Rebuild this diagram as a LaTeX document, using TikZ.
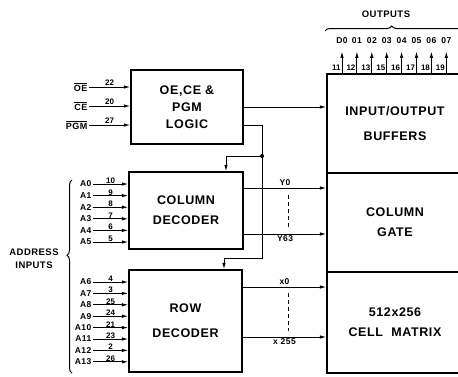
\documentclass[tikz,border=0pt]{standalone}
\usepackage{fontspec}
\setmainfont{Liberation Sans}
\newfontfamily\spaced[LetterSpace=5]{Liberation Sans}
\usetikzlibrary{arrows.meta,decorations.pathreplacing}
\begin{document}
\begin{tikzpicture}[x=1pt,y=-1pt]
  \tikzset{
    blk/.style={draw, line width=1.3pt, align=center, inner sep=0pt,
      font=\spaced\bfseries\fontsize{12.5}{17}\selectfont},
    sig/.style={line width=1pt, -{Latex[length=6.5pt,width=3.5pt]}},
    pinno/.style={font=\bfseries\fontsize{8}{8}\selectfont, inner sep=1pt},
    lbl/.style={font=\spaced\bfseries\fontsize{8.5}{9}\selectfont, inner sep=1.5pt},
    hdr/.style={font=\spaced\bfseries\fontsize{9.5}{13}\selectfont, align=center},
    brc/.style={decorate, line width=1pt,
      decoration={brace, amplitude=5pt, aspect=#1}},
    dsh/.style={line width=0.9pt, dash pattern=on 4pt off 3pt},
  }
  \clip (0,0) rectangle (458,376);

  % blocks
  \node[blk, minimum width=112pt, minimum height=74pt] (logic) at (187,107) {OE,CE \&\\PGM\\LOGIC};
  \node[blk, minimum width=114pt, minimum height=77pt] (coldec) at (186,210.5) {COLUMN\\[3pt]DECODER};
  \node[blk, minimum width=113pt, minimum height=102pt] (rowdec) at (185.5,321) {ROW\\[8pt]DECODER};
  \node[blk, minimum width=136pt, minimum height=99pt] (iobuf) at (395,123.5) {INPUT/OUTPUT\\[8pt]BUFFERS};
  \node[blk, minimum width=136pt, minimum height=99pt] (colgate) at (395,222.5) {COLUMN\\[3pt]GATE};
  \node[blk, minimum width=136pt, minimum height=101pt] (cells) at (395,322.5) {512x256\\[3pt]CELL\ \ MATRIX};

  % control inputs
  \foreach \nm/\pin/\yy in {OE/22/87, CE/20/106, PGM/27/125}{
    \node[lbl, anchor=east, font=\spaced\bfseries\fontsize{9}{9}\selectfont] (\nm) at (89,\yy) {$\overline{\hbox{\nm}}$};
    \draw[sig] (\nm.east) -- (\nm.east -| logic.west) node[pinno, midway, above] {\pin};
  }

  % address inputs
  \foreach \nm/\pin [count=\i from 0] in {A0/10, A1/9, A2/8, A3/7, A4/6, A5/5}{
    \node[lbl, anchor=east] (a\i) at (93,{184+11.6*\i}) {\nm};
    \draw[sig] (a\i.east) -- (a\i.east -| coldec.west) node[pinno, midway, above=-1pt] {\pin};
  }
  \foreach \nm/\pin [count=\i from 6] in {A6/4, A7/3, A8/25, A9/24, A10/21, A11/23, A12/2, A13/26}{
    \node[lbl, anchor=east] (a\i) at (93,{282+11.4*(\i-6)}) {\nm};
    \draw[sig] (a\i.east) -- (a\i.east -| rowdec.west) node[pinno, midway, above=-1pt] {\pin};
  }
  \draw[brc=0.61] (72,373) -- (72,180);
  \node[hdr] (addr) at (34,259) {ADDRESS\\INPUTS};

  % outputs
  \foreach \lab/\pin [count=\i from 0] in {D0/11, 01/12, 02/13, 03/15, 04/16, 05/17, 06/18, 07/19}{
    \node[lbl, inner sep=0pt] (d\i) at ({342+14.9*\i},41) {\lab};
    \draw[sig] (d\i |- iobuf.north) -- ++(0,-22) node[pinno, pos=0.27, left=0pt] {\pin};
  }
  \draw[brc=0.46] (325,31) -- (470,31);
  \node[hdr] (outs) at (386,14) {OUTPUTS};

  % logic outputs
  \draw[sig] (logic.east) -- (logic.east -| iobuf.west);
  \coordinate (jn) at (262,156);
  \coordinate (bend) at (262,258);
  \draw[sig] ([yshift=-18pt]logic.east) -| (bend) -| ([xshift=38.5pt]rowdec.north);
  \draw[sig] (jn) -| ([xshift=40pt]coldec.north);
  \fill (jn) circle (2pt);

  % decoder outputs
  \foreach \lab/\dy/\side [count=\i] in {Y0/22.5/above, Y63/-23.5/below}{
    \coordinate (y\i) at ([yshift=\dy pt]coldec.east);
    \draw[sig] (y\i) -- (y\i -| colgate.west) node[lbl, midway, \side] {\lab};
  }
  \foreach \lab/\dy/\side [count=\i] in {x0/34/above, x 255/-16/below}{
    \coordinate (x\i) at ([yshift=\dy pt]rowdec.east);
    \draw[sig] (x\i) -- (x\i -| cells.west) node[lbl, midway, \side] {\lab};
  }
  \draw[dsh] (288,195) -- (288,228);
  \draw[dsh] (288,293) -- (288,331);
\end{tikzpicture}
\end{document}
